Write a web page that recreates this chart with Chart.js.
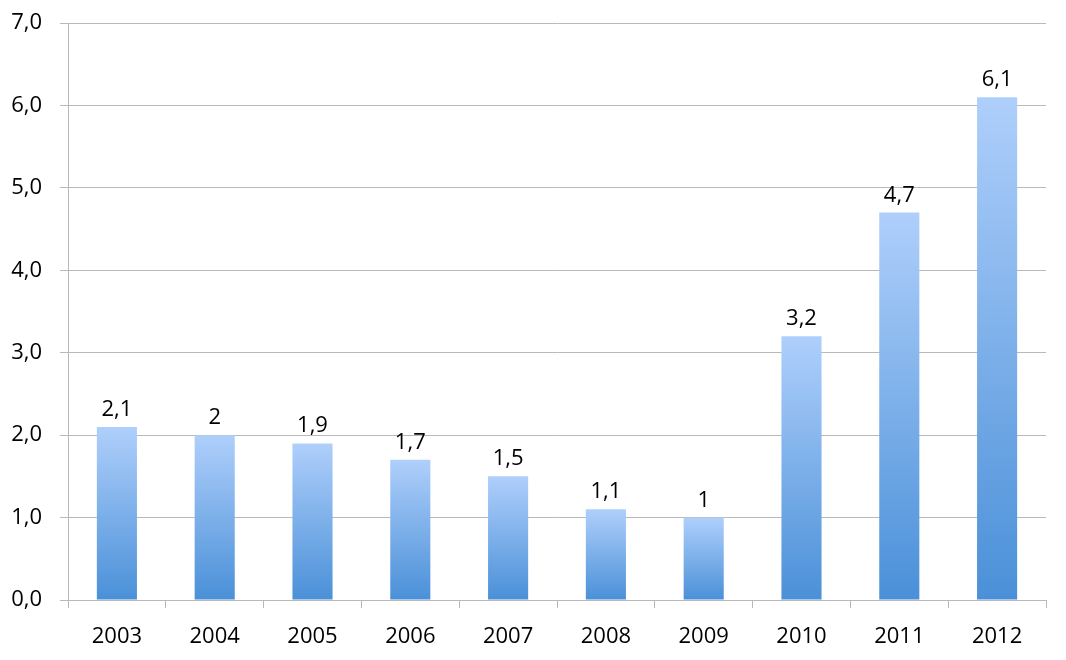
<!DOCTYPE html>
<html>
<head>
<meta charset="utf-8">
<script src="https://cdn.jsdelivr.net/npm/chart.js@4/dist/chart.umd.min.js"></script>
<style>
  html, body { margin: 0; padding: 0; background: #fff; }
  #wrap { width: 1066px; height: 660px; }
</style>
</head>
<body>
<div id="wrap"><canvas id="chart"></canvas></div>
<script>
// Data
const years = ['2003', '2004', '2005', '2006', '2007', '2008', '2009', '2010', '2011', '2012'];
const values = [2.1, 2, 1.9, 1.7, 1.5, 1.1, 1, 3.2, 4.7, 6.1];

const fontFamily = '"Open Sans", Lato, sans-serif';
const gridColor = '#b9b9b9';

const commaNum = (v, digits) => (digits == null ? String(v) : v.toFixed(digits)).replace('.', ',');

// Gradient per bar: light at the top, darker at the base
function barGradient(context) {
    const chart = context.chart;
    const y = chart.scales.y;
    if (!chart.chartArea || !y || context.raw == null) return '#7fb0ea';
    const top = y.getPixelForValue(context.raw);
    const bottom = y.getPixelForValue(0);
    const g = chart.ctx.createLinearGradient(0, top, 0, bottom);
    g.addColorStop(0, '#afcffb');
    g.addColorStop(1, '#4a90d8');
    return g;
}

// Value labels above bars
const valueLabels = {
    id: 'valueLabels',
    afterDatasetsDraw(chart) {
        const ctx = chart.ctx;
        const meta = chart.getDatasetMeta(0);
        ctx.save();
        ctx.font = '22px ' + fontFamily;
        ctx.fillStyle = '#000';
        ctx.textAlign = 'center';
        ctx.textBaseline = 'alphabetic';
        meta.data.forEach((bar, i) => {
            ctx.fillText(commaNum(values[i]), bar.x, bar.y - 11);
        });
        ctx.restore();
    }
};

new Chart(document.getElementById('chart'), {
    type: 'bar',
    data: {
        labels: years,
        datasets: [{
            data: values,
            backgroundColor: barGradient,
            borderWidth: 0,
            barPercentage: 0.41,
            categoryPercentage: 1
        }]
    },
    options: {
        responsive: true,
        maintainAspectRatio: false,
        animation: false,
        layout: { padding: { top: 23, right: 20, left: 0, bottom: 0 } },
        plugins: {
            legend: { display: false },
            tooltip: { enabled: false }
        },
        scales: {
            x: {
                grid: {
                    offset: true,
                    drawOnChartArea: false,
                    drawTicks: true,
                    tickLength: 8,
                    color: gridColor
                },
                border: { color: gridColor },
                ticks: {
                    color: '#000',
                    padding: 16,
                    font: { family: fontFamily, size: 22 }
                },
                afterFit(scale) { scale.height = 60; }
            },
            y: {
                min: 0,
                max: 7,
                ticks: {
                    stepSize: 1,
                    color: '#000',
                    padding: 18,
                    font: { family: fontFamily, size: 22 },
                    callback: (v) => commaNum(v, 1)
                },
                grid: {
                    color: gridColor,
                    tickLength: 8
                },
                border: { color: gridColor },
                afterFit(scale) {
                    scale.width = 68;
                    scale.paddingTop = 0;
                    scale.paddingBottom = 0;
                }
            }
        }
    },
    plugins: [valueLabels]
});
</script>
</body>
</html>
